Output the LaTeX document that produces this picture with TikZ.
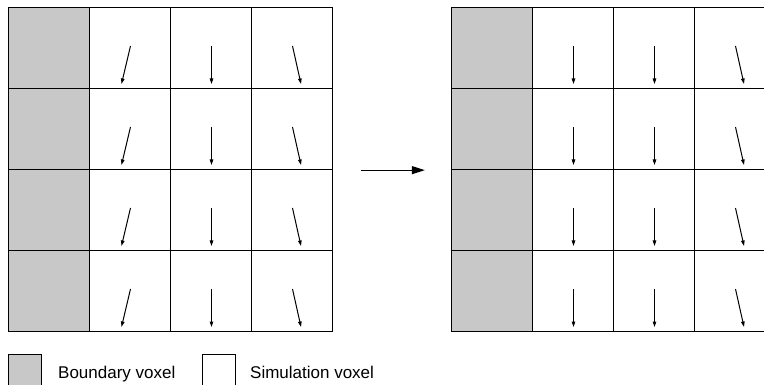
\documentclass[tikz,border=0pt]{standalone}
\usepackage{fontspec}
\setmainfont{Liberation Sans}
\usepackage{tikz}
\usetikzlibrary{arrows.meta}
\usetikzlibrary{positioning}
\definecolor{boundary}{RGB}{200,200,200}
\tikzset{
    voxel/.style={
           rectangle,
           draw=black, line width=1.3pt,
           minimum size=81pt,
           inner sep=0pt,
           },
    bvoxel/.style={
           voxel,
           fill=boundary,
           },
    keybox/.style={
           rectangle,
           draw=black, line width=1.3pt,
           minimum size=33pt,
           inner sep=0pt,
           },
    keytext/.style={
           font=\fontsize{17pt}{20pt}\selectfont,
           inner sep=0pt,
           anchor=base west,
           },
    vel/.style={
           line width=1pt,
           -{Triangle[length=5.5pt,width=3.5pt]},
           },
    stepflow/.style={
           line width=1.2pt,
           -{Triangle[length=13pt,width=8pt]},
           shorten <=28pt, shorten >=26pt,
           },
}

\begin{document}
\begin{tikzpicture}[x=1pt,y=-1pt]
  \useasboundingbox (0,0) rectangle (764,385);
  \clip (0,0) rectangle (764,385);
  % left grid (before)
  \foreach \r in {1,...,4} {
    \node[bvoxel] (L\r0) at (49,{7.5+81*(\r-0.5)}) {};
    \foreach \c/\dx in {1/-9,2/0,3/8.5} {
      \node[voxel] (L\r\c) at ({8.5+81*(\c+0.5)},{7.5+81*(\r-0.5)}) {};
      \draw[vel] ([shift={(0.5pt,2pt)}]L\r\c.center) -- ([shift={(\dx pt+0.5pt,-36pt)}]L\r\c.center);
    }
  }
  % right grid (after)
  \foreach \r in {1,...,4} {
    \node[bvoxel] (R\r0) at (492,{7.5+81*(\r-0.5)}) {};
    \foreach \c/\dx in {1/0,2/0,3/8.5} {
      \node[voxel] (R\r\c) at ({451.5+81*(\c+0.5)},{7.5+81*(\r-0.5)}) {};
      \draw[vel] ([shift={(0.5pt,2pt)}]R\r\c.center) -- ([shift={(\dx pt+0.5pt,-36pt)}]R\r\c.center);
    }
  }
  \draw[stepflow] (L23.south east) -- (R20.south west);
  % key
  \node[keybox, fill=boundary] (bkey) at (25,371) {};
  \node[keytext] (btext) at (58,378) {Boundary voxel};
  \node[keybox] (skey) at (219,371) {};
  \node[keytext] (stext) at (250,378) {Simulation voxel};
\end{tikzpicture}
\end{document}
